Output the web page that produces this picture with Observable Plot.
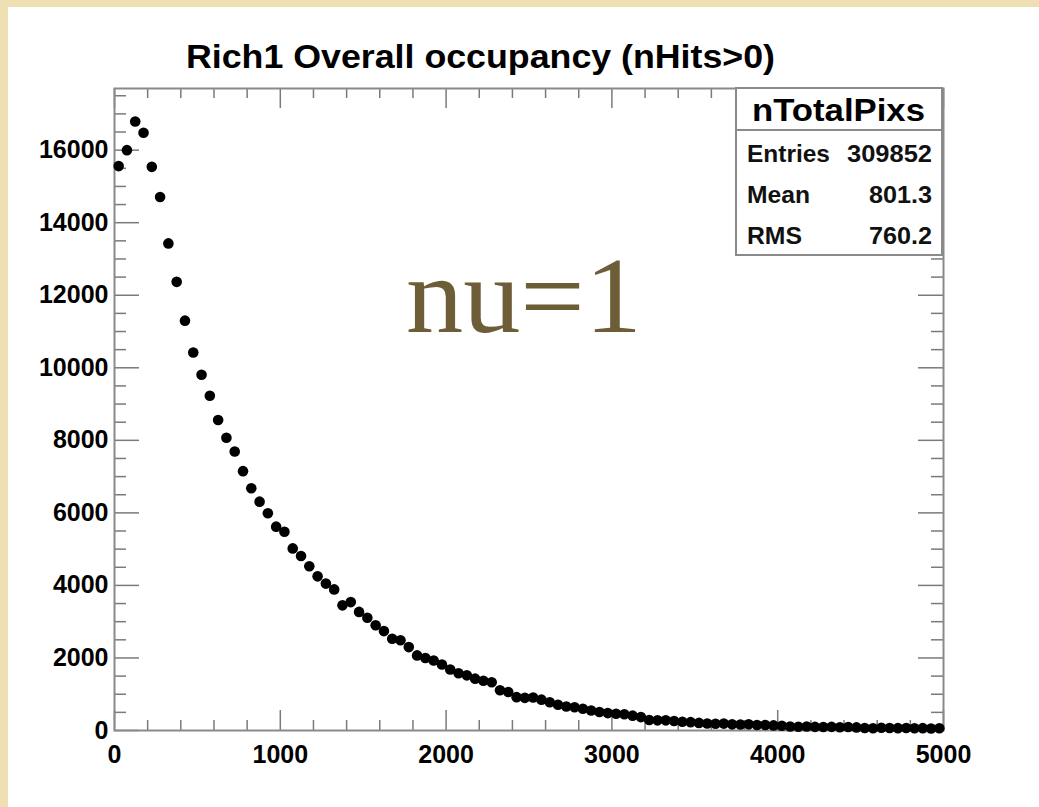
<!DOCTYPE html>
<html>
<head>
<meta charset="utf-8">
<script src="https://cdn.jsdelivr.net/npm/d3@7"></script>
<script src="https://cdn.jsdelivr.net/npm/@observablehq/plot@0.6"></script>
<style>
  html, body { margin: 0; padding: 0; }
  #page { position: relative; width: 1039px; height: 807px; background: #eee0b3; overflow: hidden; }
  #panel { position: absolute; left: 8px; top: 7px; right: 0; bottom: 0; background: #ffffff; }
  #chart { position: absolute; left: 0; top: 0; }
</style>
</head>
<body>
<div id="page"><div id="panel"></div><div id="chart"></div></div>
<script>
// ---- data ----
const binCenters = [
  25, 75, 125, 175, 225, 275, 325, 375, 425, 475,
  525, 575, 625, 675, 725, 775, 825, 875, 925, 975,
  1025, 1075, 1125, 1175, 1225, 1275, 1325, 1375, 1425, 1475,
  1525, 1575, 1625, 1675, 1725, 1775, 1825, 1875, 1925, 1975,
  2025, 2075, 2125, 2175, 2225, 2275, 2325, 2375, 2425, 2475,
  2525, 2575, 2625, 2675, 2725, 2775, 2825, 2875, 2925, 2975,
  3025, 3075, 3125, 3175, 3225, 3275, 3325, 3375, 3425, 3475,
  3525, 3575, 3625, 3675, 3725, 3775, 3825, 3875, 3925, 3975,
  4025, 4075, 4125, 4175, 4225, 4275, 4325, 4375, 4425, 4475,
  4525, 4575, 4625, 4675, 4725, 4775, 4825, 4875, 4925, 4975
];
const counts = [
  15560, 16000, 16790, 16480, 15540, 14710, 13430, 12370, 11300, 10420,
  9810, 9230, 8560, 8070, 7690, 7150, 6680, 6310, 5990, 5620,
  5480, 5020, 4810, 4530, 4250, 4050, 3890, 3450, 3540, 3270,
  3110, 2900, 2740, 2530, 2490, 2300, 2070, 2000, 1930, 1820,
  1680, 1580, 1520, 1430, 1370, 1330, 1110, 1060, 920, 900,
  910, 850, 780, 710, 660, 640, 600, 550, 510, 480,
  460, 450, 410, 370, 290, 280, 280, 260, 240, 230,
  210, 195, 185, 190, 170, 165, 170, 150, 150, 140,
  130, 110, 105, 110, 100, 95, 100, 90, 95, 85,
  70, 60, 75, 70, 65, 70, 60, 65, 55, 60
];
const xMajorTicks = [0, 1000, 2000, 3000, 4000, 5000];
const xMinorTicks = [200, 400, 600, 800, 1200, 1400, 1600, 1800, 2200, 2400, 2600, 2800, 3200, 3400, 3600, 3800, 4200, 4400, 4600, 4800];
const yMajorTicks = [0, 2000, 4000, 6000, 8000, 10000, 12000, 14000, 16000];
const yMinorTicks = [500, 1000, 1500, 2500, 3000, 3500, 4500, 5000, 5500, 6500, 7000, 7500, 8500, 9000, 9500, 10500, 11000, 11500, 12500, 13000, 13500, 14500, 15000, 15500, 16500, 17000, 17500];
const titleText = "Rich1 Overall occupancy (nHits>0)";
const statsName = "nTotalPixs";
const statsLabels = ["Entries", "Mean", "RMS"];
const statsValues = ["309852", "801.3", "760.2"];
const noteText = "nu=1";

const table = binCenters.map((x, i) => ({x, n: counts[i]}));

// ---- layout ----
const W = 1039, H = 807;
const mL = 114, mR = 96, mT = 88, mB = 77;
const fw = W - mL - mR, fh = H - mT - mB;
const axisGray = "#8a8a8a";
const tickGray = "#7a7a7a";
const font = "'Liberation Sans', Arial, Helvetica, sans-serif";

const plot = Plot.plot({
  width: W, height: H,
  marginLeft: mL, marginRight: mR, marginTop: mT, marginBottom: mB,
  style: {background: "transparent", fontFamily: font, color: "#000"},
  x: {domain: [0, 5000]},
  y: {domain: [0, 17700]},
  marks: [
    // ticks (ROOT style: inside, mirrored on all four sides)
    Plot.tickX(xMajorTicks, {x: d => d, insetTop: fh - 20, stroke: tickGray, strokeWidth: 1.5}),
    Plot.tickX(xMinorTicks, {x: d => d, insetTop: fh - 10, stroke: tickGray, strokeWidth: 1.5}),
    Plot.tickX(xMajorTicks, {x: d => d, insetBottom: fh - 20, stroke: tickGray, strokeWidth: 1.5}),
    Plot.tickX(xMinorTicks, {x: d => d, insetBottom: fh - 10, stroke: tickGray, strokeWidth: 1.5}),
    Plot.tickY(yMajorTicks, {y: d => d, insetRight: fw - 25, stroke: tickGray, strokeWidth: 1.5}),
    Plot.tickY(yMinorTicks, {y: d => d, insetRight: fw - 12, stroke: tickGray, strokeWidth: 1.5}),
    Plot.tickY(yMajorTicks, {y: d => d, insetLeft: fw - 25, stroke: tickGray, strokeWidth: 1.5}),
    Plot.tickY(yMinorTicks, {y: d => d, insetLeft: fw - 12, stroke: tickGray, strokeWidth: 1.5}),
    Plot.frame({stroke: axisGray, strokeWidth: 2}),
    Plot.axisX({ticks: xMajorTicks, tickSize: 0, tickPadding: 15, tickFormat: d3.format("d"), fontSize: 25, fontWeight: "bold", label: null}),
    Plot.axisY({ticks: yMajorTicks, tickSize: 0, tickPadding: 6, tickFormat: d3.format("d"), fontSize: 25, fontWeight: "bold", label: null}),
    Plot.dot(table, {x: "x", y: "n", r: 5.3, fill: "#000", stroke: "none"})
  ]
});

document.getElementById("chart").appendChild(plot);

// ---- annotations: title, stats box, note ----
const svg = d3.select(plot);
function addText(parent, x, y, len, size, weight, family, fill, str) {
  return parent.append("text")
    .attr("x", x).attr("y", y)
    .attr("text-anchor", "start")
    .attr("textLength", len).attr("lengthAdjust", "spacingAndGlyphs")
    .attr("font-family", family).attr("font-weight", weight).attr("font-size", size)
    .attr("fill", fill)
    .text(str);
}
addText(svg, 186, 68, 589, 34, "bold", font, "#000", titleText);

const g = svg.append("g");
g.append("rect").attr("x", 736).attr("y", 88).attr("width", 206).attr("height", 167)
  .attr("fill", "#fff").attr("stroke", axisGray).attr("stroke-width", 2);
g.append("line").attr("x1", 736).attr("x2", 942).attr("y1", 130).attr("y2", 130)
  .attr("stroke", axisGray).attr("stroke-width", 2);
addText(g, 752, 121, 173, 31, "bold", font, "#000", statsName);
const rowY = [162, 203, 244];
const labelW = [83, 63, 55];
const valueW = [85, 63, 63];
statsLabels.forEach((lab, i) => {
  addText(g, 747, rowY[i], labelW[i], 24, "bold", font, "#111", lab);
  addText(g, 932 - valueW[i], rowY[i], valueW[i], 24, "bold", font, "#111", statsValues[i]);
});

addText(svg, 406, 332, 236, 108, "normal", "'Liberation Serif', 'DejaVu Serif', serif", "#6d5e37", noteText);
</script>
</body>
</html>
